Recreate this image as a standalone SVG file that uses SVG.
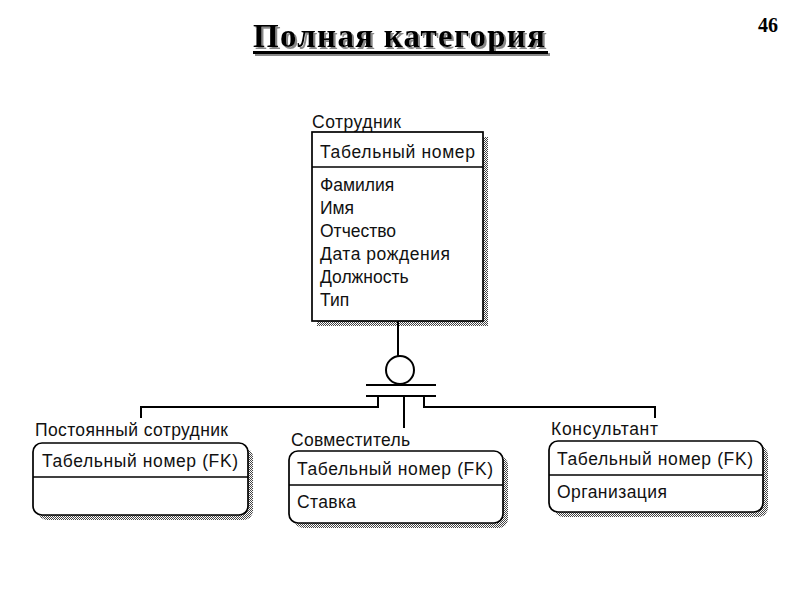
<svg xmlns="http://www.w3.org/2000/svg" width="800" height="600" viewBox="0 0 800 600">
<defs>
  <pattern id="dither" width="2" height="2" patternUnits="userSpaceOnUse">
    <rect width="2" height="2" fill="#ffffff"/>
    <rect width="1" height="1" fill="#444"/>
    <rect x="1" y="1" width="1" height="1" fill="#444"/>
  </pattern>
  <filter id="ts" x="-5%" y="-20%" width="110%" height="150%">
    <feDropShadow dx="2" dy="2" stdDeviation="0.6" flood-color="#888" flood-opacity="1"/>
  </filter>
</defs>
<style>
  .title { font-family: "Liberation Serif", "Times New Roman", serif; font-weight: bold; font-size: 33px; fill: #000; }
  .num { font-family: "Liberation Serif", "Times New Roman", serif; font-weight: bold; font-size: 20px; fill: #000; }
  .t { font-family: "Liberation Sans", Arial, sans-serif; font-size: 17.5px; fill: #111; }
  .box { fill: #fff; stroke: #000; stroke-width: 1.7; }
  .shadow { fill: url(#dither); stroke: none; }
  .div { stroke: #000; stroke-width: 1.7; }
  .conn { fill: none; stroke: #000; stroke-width: 2; }
</style>
<rect width="800" height="600" fill="#fff"/>

<g id="title" filter="url(#ts)">
  <text class="title" x="253" y="47" textLength="292">Полная категория</text>
  <rect x="253" y="51" width="295" height="3" fill="#000"/>
</g>
<text class="num" x="758" y="32">46</text>

<g id="sotrudnik">
  <text class="t" x="312" y="128" textLength="89">Сотрудник</text>
  <rect class="shadow" x="317" y="137" width="171" height="189"/>
  <rect class="box" x="312" y="132" width="171" height="189"/>
  <line class="div" x1="312" y1="167" x2="483" y2="167"/>
  <text class="t" x="320" y="158" textLength="155">Табельный номер</text>
  <text class="t" x="320" y="191">Фамилия</text>
  <text class="t" x="320" y="214">Имя</text>
  <text class="t" x="320" y="237">Отчество</text>
  <text class="t" x="320" y="260" textLength="130">Дата рождения</text>
  <text class="t" x="320" y="283">Должность</text>
  <text class="t" x="320" y="306">Тип</text>
</g>

<g id="connectors">
  <line class="conn" x1="398" y1="321" x2="398" y2="356"/>
  <circle class="conn" cx="400" cy="370" r="14"/>
  <line class="conn" x1="366" y1="385" x2="436" y2="385"/>
  <line class="conn" x1="366" y1="396" x2="436" y2="396"/>
  <polyline class="conn" points="378,396 378,407 141,407 141,418"/>
  <line class="conn" x1="404" y1="396" x2="404" y2="428"/>
  <polyline class="conn" points="424,396 424,407 655,407 655,418"/>
</g>

<g id="postoyanny">
  <text class="t" x="35" y="436" textLength="193">Постоянный сотрудник</text>
  <rect class="shadow" x="38" y="448" width="215" height="72" rx="9"/>
  <rect class="box" x="33" y="443" width="215" height="72" rx="9"/>
  <line class="div" x1="33" y1="477" x2="248" y2="477"/>
  <text class="t" x="42" y="467" textLength="196">Табельный номер (FK)</text>
</g>

<g id="sovmestitel">
  <text class="t" x="291" y="446" textLength="119">Совместитель</text>
  <rect class="shadow" x="294" y="456" width="214" height="72" rx="9"/>
  <rect class="box" x="289" y="451" width="214" height="72" rx="9"/>
  <line class="div" x1="289" y1="485" x2="503" y2="485"/>
  <text class="t" x="297" y="475" textLength="196">Табельный номер (FK)</text>
  <text class="t" x="297" y="508" textLength="59">Ставка</text>
</g>

<g id="konsultant">
  <text class="t" x="551" y="435" textLength="107">Консультант</text>
  <rect class="shadow" x="554" y="446" width="214" height="71" rx="9"/>
  <rect class="box" x="549" y="441" width="214" height="71" rx="9"/>
  <line class="div" x1="549" y1="475" x2="763" y2="475"/>
  <text class="t" x="557" y="465" textLength="196">Табельный номер (FK)</text>
  <text class="t" x="557" y="498" textLength="110">Организация</text>
</g>
</svg>
